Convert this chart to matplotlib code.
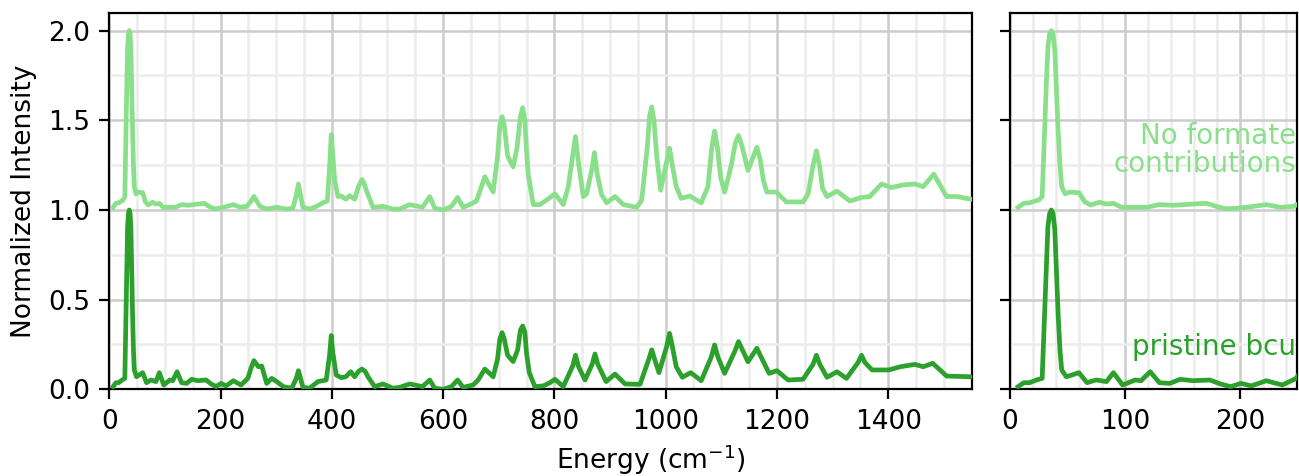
import matplotlib
matplotlib.use("Agg")
import matplotlib.pyplot as plt
from matplotlib.ticker import MultipleLocator

# ---------------- data ----------------
energy_pristine = [
    7, 12, 17, 23, 28, 30, 31.5, 33, 34.5, 36, 37.5, 39, 40.5, 42, 43.5, 45, 49, 54, 60, 67, 75, 84,
    90, 98, 109, 114, 122, 130, 139, 148, 159, 174, 183, 192, 201, 210, 223, 237, 249,
    255, 260, 268, 274, 283, 292, 301, 313, 328, 336, 340, 344, 348, 360, 375, 390, 396, 399, 402, 408, 417,
    425, 434, 441, 448, 454, 460, 465, 477, 492, 510, 522, 540, 563, 576, 585, 600, 615, 626,
    636, 654, 663, 675, 690, 698, 702, 706, 710, 716, 726, 734, 739, 743, 747, 750, 755, 765, 780, 792, 801, 816,
    833, 838, 843, 855, 868, 873, 878, 893, 909, 927, 954, 970, 975, 980, 988, 1002, 1007, 1012, 1019,
    1030, 1045, 1064, 1082, 1088, 1094, 1106, 1124, 1131, 1138, 1148, 1158, 1164, 1170, 1186, 1200, 1220,
    1247, 1265, 1271, 1277, 1290, 1308, 1325, 1346, 1352, 1358, 1371,
    1401, 1422, 1448, 1463, 1480, 1505, 1549,
]
intensity_pristine = [
    0.015, 0.037, 0.037, 0.052, 0.061, 0.405, 0.66, 0.907, 0.98, 1.0, 0.98, 0.89, 0.64, 0.405, 0.22, 0.108, 0.07, 0.08, 0.093, 0.037, 0.052, 0.043,
    0.093, 0.024, 0.052, 0.048, 0.098, 0.037, 0.033, 0.056, 0.048, 0.052, 0.03, 0.015, 0.033, 0.019, 0.048, 0.024, 0.061,
    0.12, 0.16, 0.126, 0.13, 0.033, 0.061, 0.043, 0.015, 0.006, 0.06, 0.104, 0.06, 0.011, 0.006, 0.043, 0.052, 0.19, 0.30, 0.20, 0.08, 0.065,
    0.07, 0.098, 0.07, 0.10, 0.113, 0.10, 0.07, 0.015, 0.03, 0.006, 0.011, 0.03, 0.015, 0.052, 0.006, 0.0, 0.015, 0.052,
    0.011, 0.024, 0.052, 0.113, 0.07, 0.17, 0.28, 0.316, 0.28, 0.19, 0.155, 0.22, 0.33, 0.353, 0.32, 0.20, 0.093, 0.015, 0.019, 0.037, 0.056, 0.015,
    0.13, 0.19, 0.13, 0.052, 0.14, 0.197, 0.14, 0.043, 0.085, 0.03, 0.028, 0.17, 0.22, 0.17, 0.093, 0.24, 0.312, 0.24, 0.126,
    0.067, 0.093, 0.048, 0.18, 0.247, 0.18, 0.089, 0.21, 0.266, 0.22, 0.154, 0.20, 0.229, 0.19, 0.089, 0.104, 0.052,
    0.056, 0.14, 0.19, 0.14, 0.067, 0.098, 0.061, 0.15, 0.19, 0.15, 0.108,
    0.108, 0.126, 0.139, 0.126, 0.145, 0.074, 0.07,
]

energy_noformate = [
    7, 12, 17, 25, 28, 30, 31.5, 33, 34.5, 36, 37.5, 39, 40.5, 42, 43.5, 45, 48, 52, 57, 60, 65, 70, 78, 84, 90,
    97, 107, 119, 130, 142, 159, 171, 180, 188, 197, 206, 223, 235, 247,
    255, 260, 265, 271, 283, 301, 319, 330, 336, 340, 344, 348, 360, 372, 384, 392, 396, 399, 402, 405, 411, 417,
    425, 432, 441, 448, 454, 458, 462, 474, 492, 510, 522, 540, 563, 576, 585, 600, 615, 626,
    636, 648, 660, 675, 690, 698, 702, 706, 710, 716, 726, 733, 739, 743, 747, 750, 753, 762, 774, 786, 801, 816, 825,
    832, 838, 844, 852, 858, 867, 872, 877, 885, 894, 909, 924, 948, 957, 967, 971, 975, 979, 984, 991,
    1002, 1007, 1012, 1019, 1028, 1043, 1064, 1076, 1083, 1088, 1093, 1099, 1106, 1118, 1125, 1131, 1137,
    1148, 1159, 1164, 1170, 1176, 1182, 1199, 1217, 1247, 1256, 1265, 1271, 1277, 1282,
    1290, 1308, 1331, 1352, 1367, 1388, 1406, 1427, 1448, 1463, 1482, 1505, 1523, 1549,
]
intensity_noformate = [
    1.015, 1.037, 1.04, 1.056, 1.074, 1.43, 1.68, 1.91, 1.98, 2.0, 1.98, 1.89, 1.66, 1.43, 1.25, 1.13, 1.09, 1.10, 1.097, 1.097, 1.046, 1.028, 1.043, 1.033, 1.037,
    1.015, 1.015, 1.015, 1.03, 1.026, 1.033, 1.037, 1.019, 1.007, 1.009, 1.015, 1.03, 1.015, 1.02,
    1.05, 1.075, 1.05, 1.02, 1.005, 1.015, 1.005, 1.01, 1.08, 1.145, 1.08, 1.015, 1.005, 1.02, 1.04, 1.05, 1.24, 1.42, 1.30, 1.17, 1.075, 1.078,
    1.06, 1.08, 1.06, 1.13, 1.17, 1.15, 1.11, 1.015, 1.02, 1.005, 1.005, 1.03, 1.015, 1.075, 1.01, 1.0, 1.02, 1.07,
    1.015, 1.03, 1.05, 1.185, 1.10, 1.30, 1.47, 1.52, 1.47, 1.30, 1.24, 1.35, 1.52, 1.57, 1.50, 1.33, 1.20, 1.03, 1.03, 1.055, 1.09, 1.03, 1.13,
    1.28, 1.41, 1.25, 1.075, 1.09, 1.22, 1.32, 1.20, 1.085, 1.04, 1.075, 1.03, 1.015, 1.055, 1.35, 1.52, 1.575, 1.50, 1.30, 1.11,
    1.27, 1.345, 1.25, 1.13, 1.065, 1.078, 1.04, 1.13, 1.35, 1.44, 1.35, 1.18, 1.10, 1.25, 1.37, 1.415, 1.36,
    1.22, 1.31, 1.35, 1.28, 1.16, 1.10, 1.10, 1.045, 1.045, 1.09, 1.25, 1.33, 1.24, 1.12,
    1.075, 1.105, 1.05, 1.07, 1.075, 1.145, 1.125, 1.14, 1.145, 1.13, 1.20, 1.075, 1.075, 1.06,
]

label_pristine = "pristine bcu"
label_noformate = "No formate\ncontributions"
color_pristine = "#2ca02c"
color_noformate = "#8ae08a"

# ---------------- figure ----------------
plt.rcParams["font.family"] = ["DejaVu Sans"]
plt.rcParams["font.size"] = 9.5

fig = plt.figure(figsize=(6.495, 2.38), dpi=200)
ax1 = fig.add_axes([0.0841, 0.1821, 0.6639, 0.7912])
ax2 = fig.add_axes([0.7775, 0.1821, 0.2212, 0.7912], sharey=ax1)

for ax in (ax1, ax2):
    ax.plot(energy_noformate, intensity_noformate, color=color_noformate, lw=1.7,
            solid_joinstyle="round", zorder=3)
    ax.plot(energy_pristine, intensity_pristine, color=color_pristine, lw=1.7,
            solid_joinstyle="round", zorder=3)
    ax.grid(which="major", color="#cccccc", lw=0.9, zorder=0)
    ax.grid(which="minor", color="#ececec", lw=0.9, zorder=0)
    ax.set_axisbelow(True)
    ax.yaxis.set_major_locator(MultipleLocator(0.5))
    ax.yaxis.set_minor_locator(MultipleLocator(0.25))
    ax.tick_params(which="minor", length=0)
    ax.tick_params(which="major", length=3.5, width=0.8)
    for s in ax.spines.values():
        s.set_linewidth(0.8)

ax1.set_xlim(0, 1550)
ax1.set_ylim(0, 2.1)
ax1.xaxis.set_major_locator(MultipleLocator(200))
ax1.xaxis.set_minor_locator(MultipleLocator(50))
ax1.set_ylabel("Normalized Intensity")

ax2.set_xlim(0, 250)
ax2.xaxis.set_major_locator(MultipleLocator(100))
ax2.xaxis.set_minor_locator(MultipleLocator(20))
plt.setp(ax2.get_yticklabels(), visible=False)

fig.text(0.501, 0.034, "Energy (cm$^{-1}$)", ha="center", va="center")

ax2.text(0.995, 1.335, label_noformate, color=color_noformate, ha="right", va="center",
         transform=ax2.get_yaxis_transform(), linespacing=1.0, fontsize=10)
ax2.text(0.995, 0.235, label_pristine, color=color_pristine, ha="right", va="center",
         transform=ax2.get_yaxis_transform(), fontsize=10)

fig.savefig("out.png", dpi=200)
